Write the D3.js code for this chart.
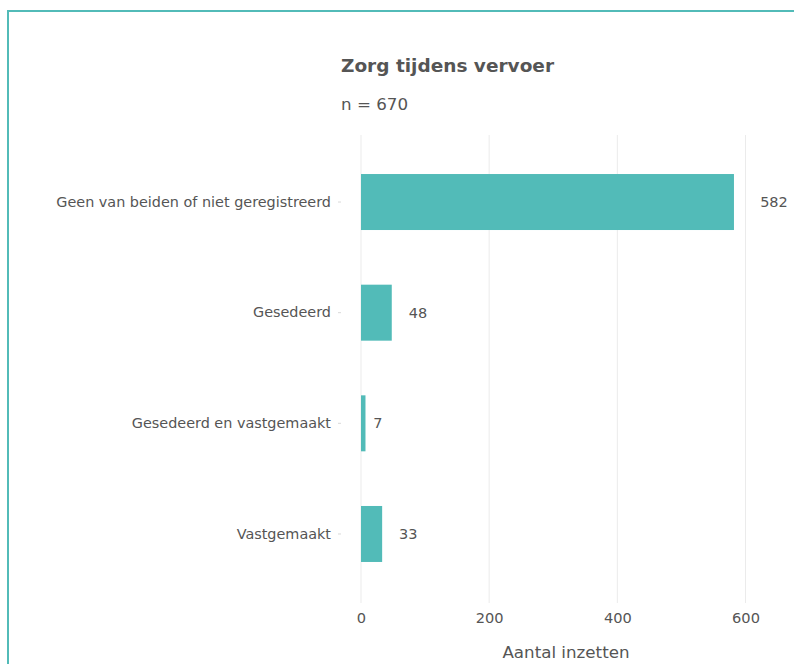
<!DOCTYPE html>
<html><head><meta charset="utf-8">
<script src="https://cdn.jsdelivr.net/npm/d3@7"></script>
<style>
body{margin:0;background:#fff;}
svg{display:block;font-family:"DejaVu Sans",sans-serif;}
</style></head>
<body>
<svg id="c" width="794" height="664"></svg>
<script>
const categories = ["Geen van beiden of niet geregistreerd","Gesedeerd","Gesedeerd en vastgemaakt","Vastgemaakt"];
const values = [582,48,7,33];
const xTicks = [0,200,400,600];
const title = "Zorg tijdens vervoer";
const subtitle = "n = 670";
const xTitle = "Aantal inzetten";

const svg = d3.select("#c");
const teal = "#52bbb8", txt = "#555555";

// frame
svg.append("rect").attr("x",8).attr("y",11).attr("width",900).attr("height",800)
  .attr("fill","none").attr("stroke",teal).attr("stroke-width",2);

const x = d3.scaleLinear().domain([0,600]).range([361,745.5]);
const y = d3.scaleBand().domain(categories).range([146.7,589.3]).paddingInner(0.494).paddingOuter(0.247);

// grid
svg.append("g").selectAll("line").data(xTicks).join("line")
  .attr("x1",d=>x(d)).attr("x2",d=>x(d)).attr("y1",135).attr("y2",603)
  .attr("stroke","#ebebeb").attr("stroke-width",1);

// bars
svg.append("g").selectAll("rect").data(values).join("rect")
  .attr("x",x(0)).attr("y",(d,i)=>y(categories[i]))
  .attr("width",d=>x(d)-x(0)).attr("height",y.bandwidth()).attr("fill",teal);

// value labels
svg.append("g").selectAll("text").data(values).join("text")
  .text(d=>d).attr("font-size",14.5).attr("fill",txt)
  .attr("y",(d,i)=>y(categories[i])+y.bandwidth()/2).attr("dy","0.35em")
  .each(function(d){ const w=this.getComputedTextLength(); d3.select(this).attr("x",x(d)+w-1.5); });

// y axis
const ya = svg.append("g").attr("transform","translate(341,0)")
  .call(d3.axisLeft(y).tickSize(4).tickPadding(6));
ya.select(".domain").remove();
ya.selectAll(".tick line").attr("stroke","#d9d9d9").attr("x1",-3).attr("x2",0);
ya.selectAll(".tick text").attr("font-size",14.4).attr("fill",txt).attr("font-family","DejaVu Sans");

// x axis
const xa = svg.append("g").attr("transform","translate(0,603)")
  .call(d3.axisBottom(x).tickValues(xTicks).tickSize(0).tickPadding(10));
xa.select(".domain").remove();
xa.selectAll(".tick text").attr("font-size",14.6).attr("fill",txt).attr("font-family","DejaVu Sans");

svg.append("text").text(xTitle).attr("x",566).attr("y",658).attr("text-anchor","middle")
  .attr("font-size",16.7).attr("fill",txt);
svg.append("text").text(title).attr("x",341).attr("y",72).attr("font-size",18.5)
  .attr("font-weight","bold").attr("fill",txt);
svg.append("text").text(subtitle).attr("x",341).attr("y",110).attr("font-size",16.7)
  .attr("fill",txt);
</script>
</body></html>
